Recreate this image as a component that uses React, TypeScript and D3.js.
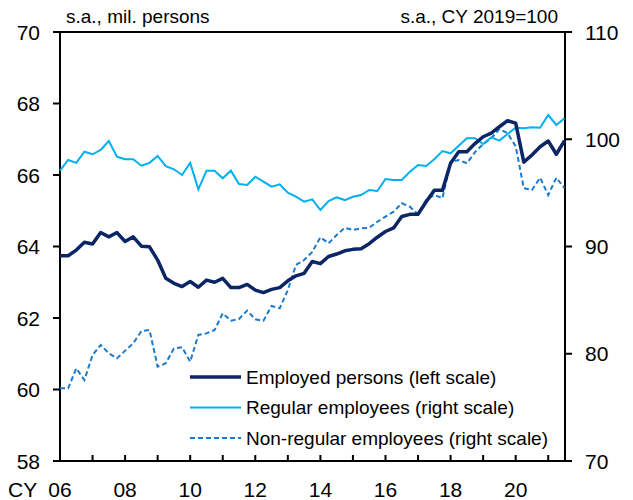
import React from 'react';
import * as d3 from 'd3';

// quarterly, 2006 Q1 .. 2021 Q3
const employed = [
  63.74, 63.74, 63.9, 64.12, 64.07, 64.39, 64.27, 64.39, 64.14, 64.27, 64.01, 63.99,
  63.62, 63.11, 62.97, 62.88, 63.02, 62.86, 63.06, 63.0, 63.11, 62.85, 62.85, 62.94,
  62.78, 62.71, 62.8, 62.85, 63.04, 63.18, 63.25, 63.58, 63.52, 63.72, 63.79, 63.88,
  63.92, 63.94, 64.08, 64.26, 64.42, 64.52, 64.84, 64.9, 64.9, 65.25, 65.57, 65.57,
  66.33, 66.65, 66.65, 66.88, 67.07, 67.17, 67.35, 67.52, 67.45, 66.36, 66.56, 66.79,
  66.95, 66.58, 66.96,
];
const regular = [
  97.07, 98.07, 97.8, 98.84, 98.6, 99.0, 99.84, 98.37, 98.13, 98.13, 97.53, 97.8,
  98.44, 97.5, 97.2, 96.67, 97.8, 95.33, 97.07, 97.07, 96.36, 97.07, 95.83, 95.73,
  96.51, 96.04, 95.58, 95.8, 95.02, 94.65, 94.18, 94.4, 93.4, 94.24, 94.58, 94.33,
  94.64, 94.8, 95.27, 95.18, 96.29, 96.2, 96.2, 96.98, 97.6, 97.5, 98.13, 98.9,
  98.69, 99.4, 100.09, 100.09, 99.56, 100.18, 99.87, 100.49, 101.08, 101.02, 101.11, 101.08,
  102.26, 101.33, 101.95,
];
const nonRegular = [
  76.78, 76.78, 78.64, 77.55, 79.88, 80.82, 80.04, 79.57, 80.29, 80.97, 82.12, 82.21,
  78.79, 79.11, 80.5, 80.6, 79.26, 81.75, 81.9, 82.21, 83.77, 83.08, 83.24, 84.02,
  83.21, 83.08, 84.45, 84.24, 85.94, 88.28, 88.74, 89.5, 90.86, 90.3, 91.07, 91.75,
  91.54, 91.69, 91.75, 92.31, 92.78, 93.25, 94.03, 93.71, 93.0, 94.34, 94.8, 94.5,
  97.85, 98.07, 97.76, 98.8, 99.55, 100.09, 100.95, 100.56, 99.35, 95.43, 95.27, 96.42,
  94.8, 96.42, 95.43,
];
const years = ['06', '07', '08', '09', '10', '11', '12', '13', '14', '15', '16', '17', '18', '19', '20', '21'];
const yearLabels = ['06', '08', '10', '12', '14', '16', '18', '20'];
const leftTicks = [58, 60, 62, 64, 66, 68, 70];
const rightTicks = [70, 80, 90, 100, 110];

const legendItems = [
  { label: 'Employed persons (left scale)', color: '#0b2565', width: 3.5, dash: '' },
  { label: 'Regular employees (right scale)', color: '#00b0f0', width: 2, dash: '' },
  { label: 'Non-regular employees (right scale)', color: '#1a7acb', width: 2, dash: '5,3' },
];

const W = 633, H = 500;
const left = 60, right = 565, top = 32, bottom = 461;
const font = "Arial, 'Liberation Sans', sans-serif";

export default function App() {
  const x = d3.scaleLinear().domain([0, 62]).range([left, 564.5]);
  const yL = d3.scaleLinear().domain([58, 70]).range([bottom, top]);
  const yR = d3.scaleLinear().domain([70, 110]).range([bottom, top]);

  const lineL = d3.line<number>().x((_, i) => x(i)).y(d => yL(d));
  const lineR = d3.line<number>().x((_, i) => x(i)).y(d => yR(d));

  return (
    <svg width={W} height={H} style={{ position: 'absolute', left: 0, top: 0, background: '#fff' }}
      fontFamily={font}>
      {/* frame */}
      <line x1={left} x2={right} y1={top} y2={top} stroke="#000" strokeWidth={2} />
      <line x1={left} x2={right} y1={bottom} y2={bottom} stroke="#000" strokeWidth={2} />
      <line x1={left} x2={left} y1={top} y2={bottom} stroke="#000" strokeWidth={2} />
      <line x1={right} x2={right} y1={top} y2={bottom} stroke="#000" strokeWidth={2} />

      {/* left axis */}
      {leftTicks.map(t => (
        <g key={'l' + t}>
          <line x1={left - 7} x2={left} y1={yL(t)} y2={yL(t)} stroke="#000" strokeWidth={2} />
          <text x={40} y={yL(t)} dy="0.36em" textAnchor="end" fontSize={21}>{t}</text>
        </g>
      ))}
      {/* right axis */}
      {rightTicks.map(t => (
        <g key={'r' + t}>
          <line x1={right} x2={right + 7} y1={yR(t)} y2={yR(t)} stroke="#000" strokeWidth={2} />
          <text x={585} y={yR(t)} dy="0.36em" textAnchor="start" fontSize={21}>{t}</text>
        </g>
      ))}
      {/* x axis: a tick each year, a label every other year */}
      {years.map((yr, i) => (
        <line key={'x' + yr} x1={x(i * 4)} x2={x(i * 4)} y1={bottom} y2={bottom - 6} stroke="#000" strokeWidth={2} />
      ))}
      {yearLabels.map(yr => (
        <text key={'xl' + yr} x={x(years.indexOf(yr) * 4)} y={497} textAnchor="middle" fontSize={21}>{yr}</text>
      ))}
      <text x={8} y={497} fontSize={21}>CY</text>

      {/* headers */}
      <text x={66} y={23} fontSize={19}>s.a., mil. persons</text>
      <text x={558} y={23} fontSize={19} textAnchor="end">s.a., CY 2019=100</text>

      {/* series */}
      <path d={lineR(nonRegular) ?? ''} fill="none" stroke={legendItems[2].color} strokeWidth={2} strokeDasharray="5,3" />
      <path d={lineR(regular) ?? ''} fill="none" stroke={legendItems[1].color} strokeWidth={2} />
      <path d={lineL(employed) ?? ''} fill="none" stroke={legendItems[0].color} strokeWidth={3.5} strokeLinejoin="round" />

      {/* legend */}
      {legendItems.map((it, i) => {
        const ly = 377 + i * 30.5;
        return (
          <g key={it.label}>
            <line x1={190} x2={241} y1={ly} y2={ly} stroke={it.color} strokeWidth={it.width}
              strokeDasharray={it.dash || undefined} />
            <text x={246} y={ly} dy="0.36em" fontSize={19}>{it.label}</text>
          </g>
        );
      })}
    </svg>
  );
}
